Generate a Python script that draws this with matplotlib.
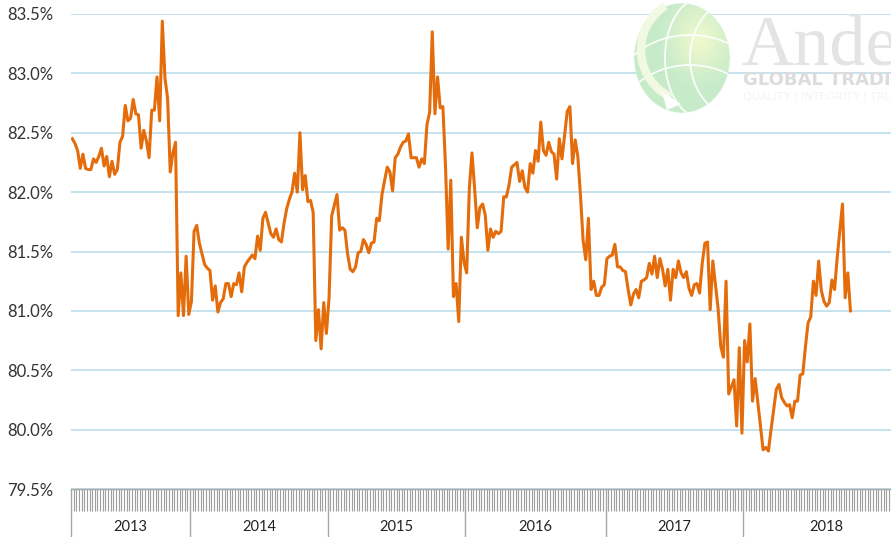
import numpy as np
import matplotlib.pyplot as plt
from matplotlib.patches import Ellipse, Arc, Polygon

# weekly share (%) and the year groups on the category axis
years = ['2013', '2014', '2015', '2016', '2017', '2018']
weeks_per_year = [45, 52, 52, 53, 52, 63]

share_2013 = [82.45, 82.41, 82.35, 82.20, 82.32, 82.20, 82.19, 82.19, 82.28, 82.25,
              82.30, 82.37, 82.22, 82.30, 82.13, 82.26, 82.15, 82.19, 82.42, 82.47,
              82.73, 82.60, 82.62, 82.78, 82.66, 82.65, 82.37, 82.52, 82.43, 82.29,
              82.69, 82.69, 82.97, 82.60, 83.44, 82.96, 82.79, 82.17, 82.33, 82.42,
              80.96, 81.32, 80.96, 81.46, 80.97]
share_2014 = [81.08, 81.67, 81.72, 81.57, 81.48, 81.39, 81.36, 81.34, 81.09, 81.21,
              80.99, 81.07, 81.10, 81.23, 81.23, 81.12, 81.23, 81.22, 81.32, 81.16,
              81.37, 81.41, 81.44, 81.47, 81.44, 81.63, 81.51, 81.78, 81.83, 81.74,
              81.65, 81.62, 81.69, 81.60, 81.58, 81.74, 81.86, 81.94, 82.00, 82.16,
              82.00, 82.50, 82.02, 82.14, 81.92, 81.93, 81.83, 80.75, 81.01, 80.68,
              81.07, 80.81]
share_2015 = [81.11, 81.80, 81.89, 81.98, 81.68, 81.70, 81.68, 81.48, 81.35, 81.33,
              81.37, 81.49, 81.50, 81.60, 81.56, 81.49, 81.57, 81.58, 81.78, 81.76,
              81.98, 82.10, 82.21, 82.17, 82.01, 82.29, 82.32, 82.38, 82.42, 82.43,
              82.49, 82.29, 82.29, 82.29, 82.21, 82.28, 82.24, 82.57, 82.67, 83.35,
              82.66, 82.97, 82.71, 82.72, 82.22, 81.52, 82.10, 81.12, 81.23, 80.91,
              81.62, 81.41]
share_2016 = [81.32, 82.03, 82.33, 82.03, 81.70, 81.87, 81.90, 81.81, 81.51, 81.69,
              81.62, 81.67, 81.65, 81.67, 81.96, 81.96, 82.06, 82.21, 82.23, 82.25,
              82.09, 82.18, 82.04, 82.00, 82.24, 82.16, 82.35, 82.26, 82.59, 82.35,
              82.31, 82.42, 82.34, 82.32, 82.11, 82.45, 82.28, 82.48, 82.68, 82.72,
              82.24, 82.44, 82.30, 81.97, 81.59, 81.43, 81.78, 81.18, 81.25, 81.13,
              81.13, 81.20, 81.22]
share_2017 = [81.44, 81.46, 81.47, 81.56, 81.37, 81.37, 81.34, 81.33, 81.18, 81.05,
              81.14, 81.18, 81.11, 81.25, 81.26, 81.28, 81.40, 81.31, 81.46, 81.28,
              81.44, 81.35, 81.21, 81.35, 81.09, 81.35, 81.28, 81.42, 81.32, 81.28,
              81.33, 81.19, 81.13, 81.22, 81.23, 81.15, 81.40, 81.57, 81.58, 81.01,
              81.42, 81.22, 81.02, 80.70, 80.61, 81.25, 80.30, 80.36, 80.42, 80.03,
              80.69, 79.97]
share_2018 = [80.75, 80.57, 80.89, 80.24, 80.43, 80.23, 80.03, 79.83, 79.85, 79.82,
              80.00, 80.17, 80.34, 80.38, 80.27, 80.23, 80.20, 80.21, 80.10, 80.24,
              80.24, 80.46, 80.47, 80.70, 80.90, 80.95, 81.25, 81.13, 81.42, 81.17,
              81.08, 81.04, 81.07, 81.26, 81.18, 81.45, 81.68, 81.90, 81.11, 81.32,
              81.00]

share = share_2013 + share_2014 + share_2015 + share_2016 + share_2017 + share_2018

W, H = 891, 537
fig = plt.figure(figsize=(W / 100, H / 100), dpi=100)
# plot area runs past the right edge, the last year group is cut off
ax = fig.add_axes([71 / W, 48 / H, (910 - 71) / W, 475 / H])

n_cat = sum(weeks_per_year)
x = np.arange(len(share)) + 0.5
ax.plot(x, share, color='#E46C0A', lw=2.2, solid_joinstyle='round', zorder=3)

ax.set_xlim(0, n_cat)
ax.set_ylim(79.5, 83.5)
yt = np.arange(79.5, 83.51, 0.5)
ax.set_yticks(yt)
ax.set_yticklabels([f'{v:.1f}%' for v in yt], family='Lato', fontsize=12, color='#333333')
ax.tick_params(axis='y', length=0, pad=13)
ax.yaxis.grid(True, color='#C6E3ED', lw=1.4)
ax.set_axisbelow(True)
for s in ['top', 'right', 'left']:
    ax.spines[s].set_visible(False)
ax.spines['bottom'].set_color('#A6A6A6')
ax.spines['bottom'].set_linewidth(1.0)

# one tick per week, long separators between years
bounds = np.concatenate([[0], np.cumsum(weeks_per_year)])
ax.set_xticks(bounds)
ax.set_xticks(np.arange(n_cat + 1), minor=True)
ax.set_xticklabels([])
ax.tick_params(axis='x', which='major', length=35, width=1.0, color='#A6A6A6')
ax.tick_params(axis='x', which='minor', length=16, width=0.8, color='#9E9E9E')

for yr, a, b in zip(years, bounds[:-1], bounds[1:]):
    ax.annotate(yr, xy=((a + b) / 2, 0), xycoords=('data', 'axes fraction'),
                xytext=(0, -27.5), textcoords='offset points',
                ha='center', va='center', family='Lato', fontsize=10.5, color='#222222')

# faint company logo in the top right corner
gax = fig.add_axes([622 / W, 1 - 118 / H, 118 / W, 118 / H])
gax.set_xlim(622, 740)
gax.set_ylim(118, 0)
gax.axis('off')
gx, gy = np.meshgrid(np.linspace(622, 740, 236), np.linspace(0, 118, 236))
r = np.hypot((gx - 682) / 48, (gy - 58) / 55)
t = np.clip(np.hypot((gx - 700) / 40, (gy - 40) / 48), 0, 1)
rgb = (1 - t)[..., None] * np.array([0.95, 0.98, 0.80]) + t[..., None] * np.array([0.77, 0.92, 0.78])
alpha = np.where(r <= 1, 0.95, 0.0)
gax.imshow(np.dstack([rgb, alpha]), extent=(622, 740, 118, 0), aspect='auto',
           interpolation='bilinear', zorder=1)
clip = Ellipse((682, 58), 96, 110, transform=gax.transData, fc='none', ec='none')
gax.add_patch(clip)
for cx, w_, h_ in [(700, 70, 118), (745, 110, 125)]:
    e = Arc((cx, 58), w_, h_, color='white', lw=1.3, alpha=0.9, zorder=2)
    gax.add_patch(e)
    e.set_clip_path(clip)
for cy, w_, h_ in [(95, 150, 120), (130, 150, 130)]:
    e = Arc((690, cy), w_, h_, color='white', lw=1.3, alpha=0.9, zorder=2)
    gax.add_patch(e)
    e.set_clip_path(clip)
# swoosh with arrow on the left side of the globe
gax.add_patch(Arc((693, 50), 104, 104, theta1=115, theta2=238, color='#F2F9E2', lw=6, zorder=3))
gax.add_patch(Polygon([[662, 92], [681, 104], [667, 110]], closed=True, fc='white', ec='none', zorder=4))

fig.text(741 / W, 1 - 66 / H, 'Ande', family='Liberation Serif', fontsize=52,
         color='#E4E4E4', va='baseline', ha='left')
fig.text(743 / W, 1 - 85 / H, 'GLOBAL TRADING', family='DejaVu Sans', fontsize=13,
         weight='bold', color='#DCDCDC', va='baseline', ha='left')
fig.text(743 / W, 1 - 100 / H, 'QUALITY | INTEGRITY | TRUST', family='DejaVu Sans', fontsize=8,
         color='#F4F4F4', va='baseline', ha='left')

fig.savefig('out.png', dpi=100)
